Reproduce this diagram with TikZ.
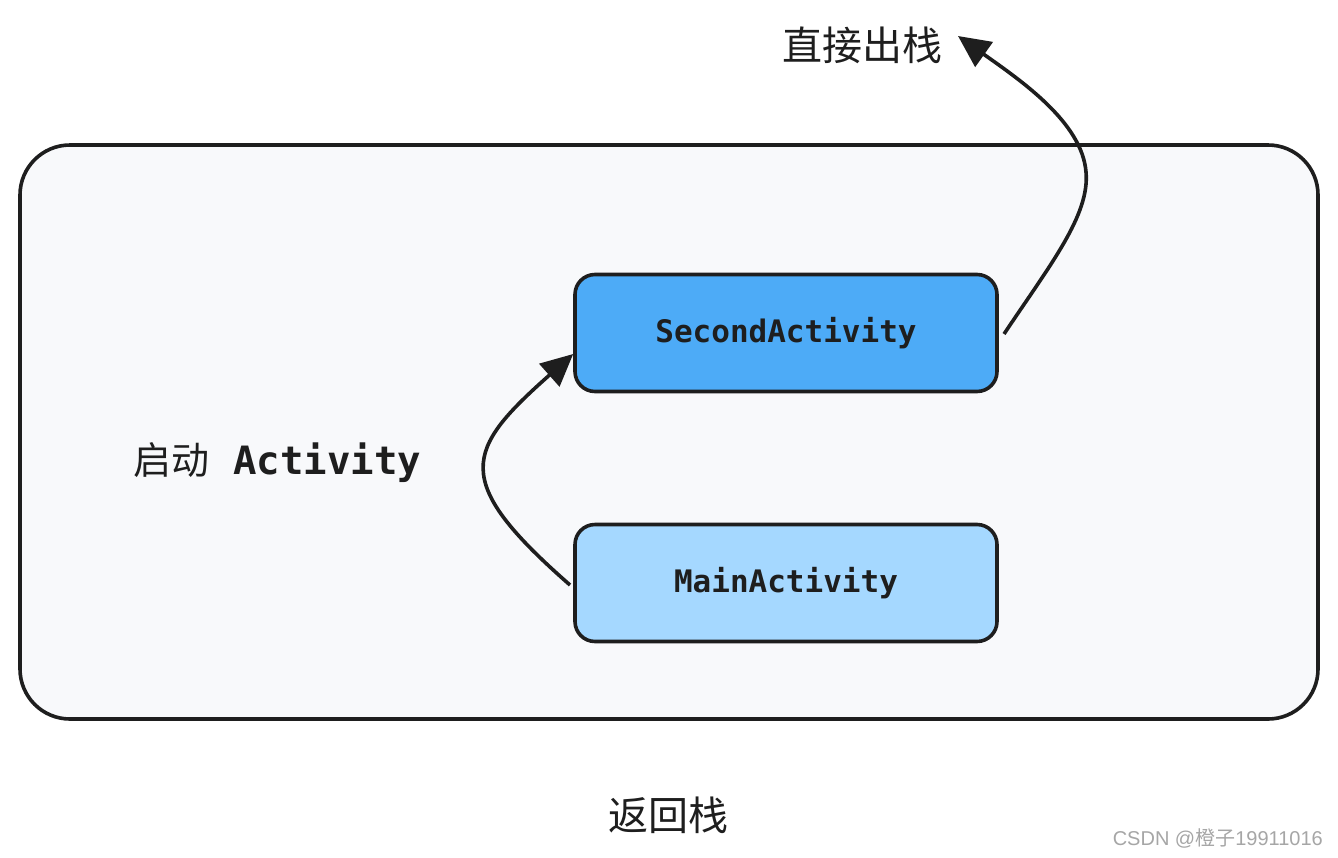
\documentclass[tikz,border=0pt]{standalone}
\usepackage{fontspec}
\newfontfamily\cjk{Noto Sans CJK SC}
\newfontfamily\monof{DejaVu Sans Mono}
\newfontfamily\wmfont{Liberation Sans}
\usetikzlibrary{arrows.meta}
\definecolor{strokec}{HTML}{1E1E1E}
\definecolor{bgfill}{HTML}{F8F9FB}
\definecolor{bluedark}{HTML}{4DABF7}
\definecolor{bluelight}{HTML}{A5D8FF}
\begin{document}
\begin{tikzpicture}[x=1pt,y=-1pt,
  outerbox/.style={draw=strokec,line width=3.6pt,fill=bgfill,rounded corners=50pt},
  actbox/.style={draw=strokec,line width=3.6pt,rounded corners=20pt,minimum width=422pt,minimum height=117pt,inner sep=0pt,
    font=\monof\bfseries\fontsize{31}{36}\selectfont,text=strokec},
  cjklabel/.style={inner sep=0pt,text=strokec,font=\cjk\fontsize{40}{46}\selectfont},
  conn/.style={draw=strokec,line width=3.6pt,-{Triangle[length=32pt,width=30pt]}},
]
\useasboundingbox (0,0) rectangle (1338,857);
\fill[white] (0,0) rectangle (1338,857);
\draw[outerbox] (20,145) rectangle (1318,719);
\node[actbox,fill=bluedark] (second) at (786,333) {SecondActivity};
\node[actbox,fill=bluelight] (main) at (786,583) {MainActivity};
\node[inner sep=0pt,text=strokec,anchor=west] (start) at (133,463) {{\cjk\fontsize{38}{44}\selectfont 启动}\hspace{24pt}{\monof\bfseries\fontsize{39}{44}\selectfont Activity}};
\node[cjklabel] (pop) at (862,45) {直接出栈};
\node[cjklabel] (stack) at (668,815) {返回栈};
\node[inner sep=0pt,text=black!35,font=\wmfont\fontsize{20}{24}\selectfont,anchor=east] (wm) at (1323,838) {CSDN @{\cjk 橙子}19911016};
\coordinate (a1s) at (570,585);
\coordinate (a2s) at (1004,334);
\coordinate (a2m) at (1086,172);
\coordinate (a2e) at (958,36);
\draw[conn] (a1s) .. controls (450,480) and (465,450) .. (second.west |- 0,354);
\draw[conn] (a2s) .. controls (1050,265) and (1090,215) .. (a2m) .. controls (1082,122) and (1020,80) .. (a2e);
\end{tikzpicture}
\end{document}
